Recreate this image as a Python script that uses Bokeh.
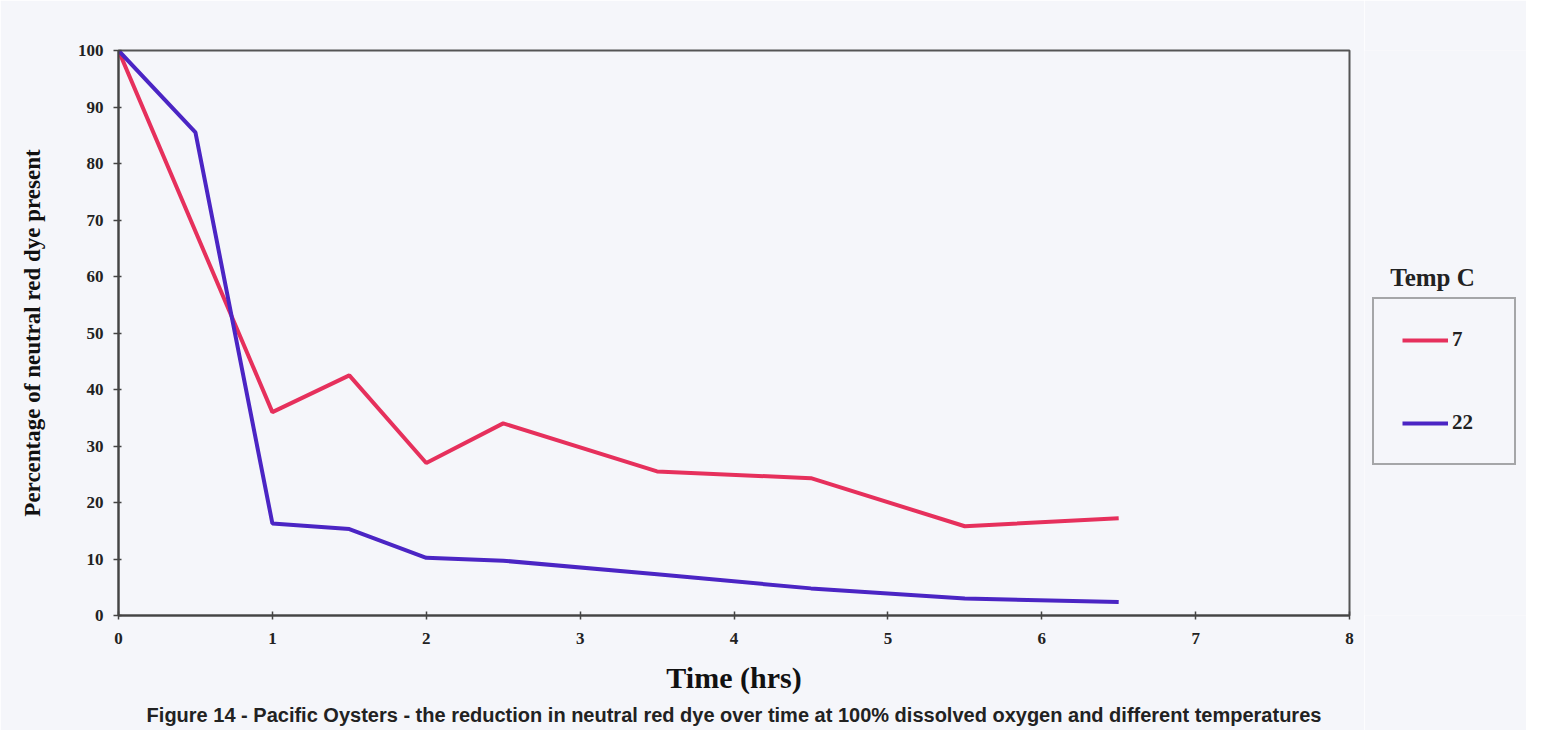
from bokeh.plotting import figure
from bokeh.layouts import row
from bokeh.models import Legend, LegendItem, Label, Title, Range1d, FixedTicker
from bokeh.embed import file_html
from bokeh.resources import INLINE

# Data
time_7 = [0, 1, 1.5, 2, 2.5, 3.5, 4.5, 5.5, 6.5]
pct_7 = [100, 36, 42.5, 27, 34, 25.5, 24.3, 15.8, 17.2]

time_22 = [0, 0.5, 1, 1.5, 2, 2.5, 3.5, 4.5, 5.5, 6.5]
pct_22 = [100, 85.5, 16.3, 15.3, 10.2, 9.7, 7.3, 4.8, 3.0, 2.4]

series_labels = ["7", "22"]
legend_title = "Temp C"
x_ticks = [0, 1, 2, 3, 4, 5, 6, 7, 8]
y_ticks = [0, 10, 20, 30, 40, 50, 60, 70, 80, 90, 100]

BG = "#f5f6fa"
RED = "#e6305c"
BLUE = "#4b25c4"
SERIF = "Liberation Serif"
TXT = "#222222"

H = 730

p = figure(width=1364, height=H, output_backend="svg", toolbar_location=None,
           x_range=Range1d(0, 8), y_range=Range1d(0, 100),
           min_border_left=118, min_border_right=15, min_border_top=50, min_border_bottom=115)
p.background_fill_color = BG
p.border_fill_color = BG
p.xgrid.visible = False
p.ygrid.visible = False
p.outline_line_color = "#555555"
p.outline_line_width = 2

p.line(time_7, pct_7, line_color=RED, line_width=4)
p.line(time_22, pct_22, line_color=BLUE, line_width=4)

for ax in (p.xaxis[0], p.yaxis[0]):
    ax.axis_line_color = "#444444"
    ax.axis_line_width = 2
    ax.major_tick_line_color = "#444444"
    ax.major_tick_line_width = 1.5
    ax.minor_tick_line_color = None
    ax.major_label_text_font = SERIF
    ax.major_label_text_font_style = "bold"
    ax.major_label_text_font_size = "17px"
    ax.major_label_text_color = TXT
    ax.axis_label_text_font = SERIF
    ax.axis_label_text_font_style = "bold"
    ax.axis_label_text_color = "#111111"

p.xaxis.ticker = FixedTicker(ticks=x_ticks)
p.yaxis.ticker = FixedTicker(ticks=y_ticks)
p.xaxis.major_tick_in = 4
p.xaxis.major_tick_out = 4
p.yaxis.major_tick_in = 3
p.yaxis.major_tick_out = 5
p.xaxis.major_label_standoff = 13
p.yaxis.major_label_standoff = 10

p.xaxis.axis_label = "Time (hrs)"
p.xaxis.axis_label_text_font_size = "30px"
p.xaxis.axis_label_standoff = 14
p.yaxis.axis_label = "Percentage of neutral red dye present"
p.yaxis.axis_label_text_font_size = "23px"
p.yaxis.axis_label_standoff = 30

caption = Title(text="Figure 14 - Pacific Oysters - the reduction in neutral red dye over time at 100% dissolved oxygen and different temperatures",
                align="center", text_font="Liberation Sans", text_font_style="bold",
                text_font_size="20px", text_color=TXT, offset=0, standoff=10)
p.add_layout(caption, "below")

# Legend panel to the right of the chart (frame aligned with the chart's frame)
p2 = figure(width=162, height=H, output_backend="svg", toolbar_location=None,
            x_range=Range1d(0, 1), y_range=Range1d(0, 1),
            x_axis_location=None, y_axis_location=None, min_border=0)
p2.background_fill_color = BG
p2.border_fill_color = BG
p2.outline_line_color = None
p2.xgrid.visible = False
p2.ygrid.visible = False

# legend swatch renderers (the data lie outside this panel's ranges, so only the swatches show)
k7 = p2.line(time_7, pct_7, line_color=RED, line_width=4)
k22 = p2.line(time_22, pct_22, line_color=BLUE, line_width=4)

p2.add_layout(Label(x=68, y=338, x_units="screen", y_units="screen", text=legend_title,
                    text_font=SERIF, text_font_style="bold", text_font_size="25px",
                    text_color=TXT, text_align="center", text_baseline="middle"))

legend = Legend(items=[LegendItem(label=series_labels[0], renderers=[k7]),
                       LegendItem(label=series_labels[1], renderers=[k22])],
                location=(8, 150), orientation="vertical",
                padding=28, spacing=58, glyph_width=46, glyph_height=20, label_width=34,
                label_standoff=4, label_text_font=SERIF, label_text_font_style="bold",
                label_text_font_size="21px", label_text_color=TXT,
                border_line_color="#555555", border_line_width=2,
                background_fill_color=BG, background_fill_alpha=1)
p2.add_layout(legend, "center")

layout = row(p, p2)
open("out.html", "w").write(file_html(layout, INLINE))
